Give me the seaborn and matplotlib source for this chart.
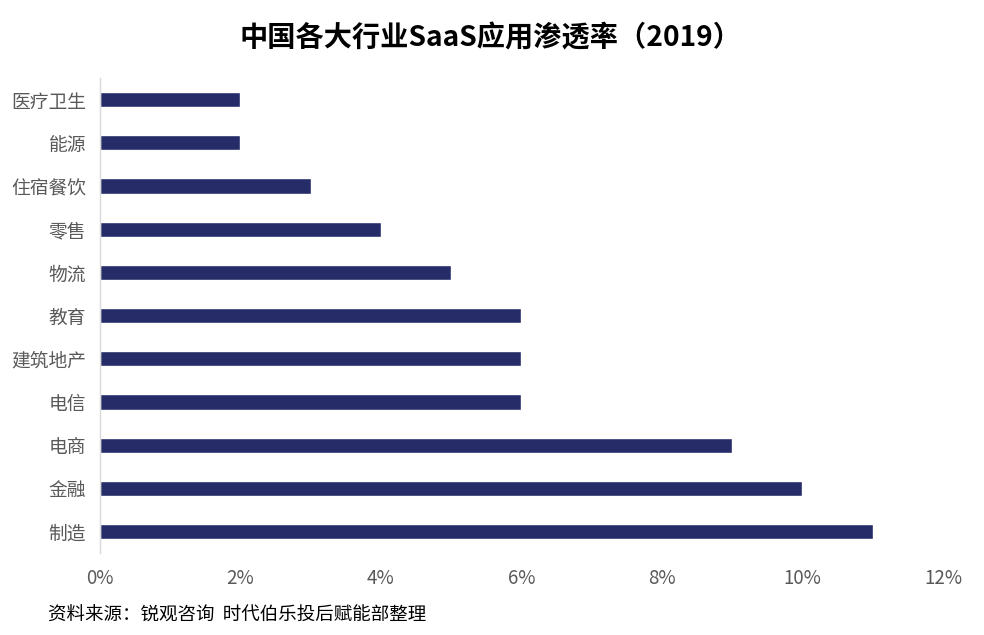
import matplotlib
matplotlib.use('Agg')
import matplotlib.pyplot as plt
import seaborn as sns
import pandas as pd
from matplotlib.ticker import FuncFormatter

# 行业与渗透率（%）
industries = ['医疗卫生', '能源', '住宿餐饮', '零售', '物流', '教育',
              '建筑地产', '电信', '电商', '金融', '制造']
rates = [2, 2, 3, 4, 5, 6, 6, 6, 9, 10, 11]
x_ticks = [0, 2, 4, 6, 8, 10, 12]

sns.set_theme(style='white')
plt.rcParams['font.family'] = ['Noto Sans CJK SC', 'DejaVu Sans']

df = pd.DataFrame({'行业': industries, '渗透率': rates})

fig = plt.figure(figsize=(9.84, 6.35), dpi=100)
ax = fig.add_axes([0.1016, 0.129, 0.8567, 0.748])

sns.barplot(data=df, x='渗透率', y='行业', ax=ax, color='#262C68',
            width=0.35, saturation=1, orient='h')

ax.set_xlim(0, 12)
ax.set_xticks(x_ticks)
ax.xaxis.set_major_formatter(FuncFormatter(lambda v, p: f'{int(v)}%'))
ax.set_xlabel('')
ax.set_ylabel('')
ax.tick_params(axis='both', length=0, labelsize=13.5, colors='#595959')
ax.tick_params(axis='x', pad=11)
ax.tick_params(axis='y', pad=10)

for s in ['top', 'right', 'bottom']:
    ax.spines[s].set_visible(False)
ax.spines['left'].set_color('#D9D9D9')
ax.spines['left'].set_linewidth(1)

fig.text(0.498, 0.94, '中国各大行业SaaS应用渗透率（2019）', ha='center', va='center',
         fontsize=20.3, fontweight='bold', color='black')
fig.text(0.049, 0.031, '资料来源：锐观咨询  时代伯乐投后赋能部整理', ha='left', va='center',
         fontsize=13.3, color='black')

fig.savefig('out.png', dpi=100)
